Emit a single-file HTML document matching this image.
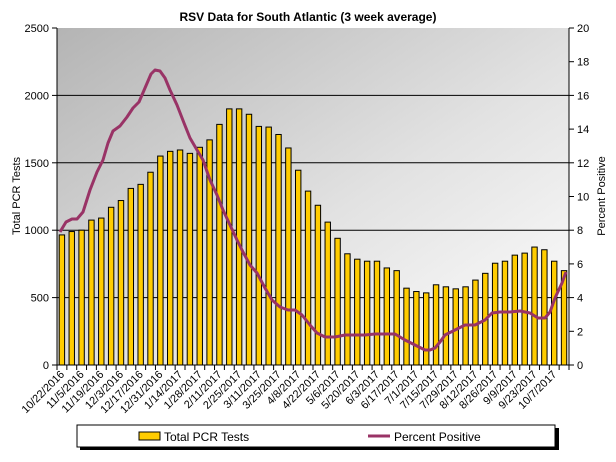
<!DOCTYPE html>
<html><head><meta charset="utf-8"><style>
body{margin:0;background:#fff;}
svg{display:block;font-family:"Liberation Sans",Tahoma,sans-serif;}
</style></head><body>
<svg id="c" width="616" height="462" viewBox="0 0 616 462" xmlns="http://www.w3.org/2000/svg">
<defs>
<linearGradient id="g" x1="0" y1="0" x2="1" y2="1">
<stop offset="0" stop-color="#b4b4b4"/><stop offset="0.55" stop-color="#e2e2e2"/><stop offset="1" stop-color="#ffffff"/>
</linearGradient>
</defs>
<rect x="57" y="28" width="512" height="337" fill="url(#g)"/>
<text x="308" y="21" text-anchor="middle" font-size="12" font-weight="bold" fill="#000">RSV Data for South Atlantic (3 week average)</text>
<text transform="translate(20,196) rotate(-90)" text-anchor="middle" font-size="11" fill="#000">Total PCR Tests</text>
<text transform="translate(605,196) rotate(-90)" text-anchor="middle" font-size="11" fill="#000">Percent Positive</text>
<g id="grid"></g>
<g id="bars"></g>
<polyline id="line" fill="none" stroke="#993366" stroke-width="3" stroke-linejoin="round"/>
<g id="axes"></g>
<rect x="80" y="428" width="479" height="22" fill="#000"/>
<rect x="77" y="425" width="478" height="22" fill="#fff" stroke="#000" stroke-width="1"/>
<rect x="139" y="432" width="21" height="8" fill="#ffcc00" stroke="#000"/>
<text x="164" y="441" font-size="12">Total PCR Tests</text>
<line x1="368" y1="436" x2="390" y2="436" stroke="#993366" stroke-width="3"/>
<text x="394" y="441" font-size="12">Percent Positive</text>
</svg>
<script>
var NS="http://www.w3.org/2000/svg";
function el(p,t,a,txt){var e=document.createElementNS(NS,t);for(var k in a)e.setAttribute(k,a[k]);if(txt)e.textContent=txt;document.getElementById(p).appendChild(e);return e;}
var L=57,R=569,T=28,B=365,H=B-T;
var vals=[965,990,1000,1075,1090,1170,1220,1310,1340,1430,1550,1585,1595,1570,1615,1670,1785,1900,1900,1860,1770,1765,1710,1610,1445,1290,1185,1060,940,825,785,770,770,720,700,570,545,535,595,580,565,580,630,680,755,770,815,830,875,855,770,700];
var n=vals.length,w=(R-L)/n;
[500,1000,1500,2000].forEach(function(v){var y=B-v/2500*H;el("grid","line",{x1:L,x2:R,y1:y,y2:y,stroke:"#000","stroke-width":1});});
vals.forEach(function(v,i){var h=v/2500*H;el("bars","rect",{x:L+i*w+2.2,y:B-h,width:5.4,height:h,fill:"#ffcc00",stroke:"#000","stroke-width":1});});
var pts=[[60,232],[66,222],[72,219],[77,219],[83,212],[90,190],[97,172],[103,160],[108,143],[113,131],[120,126],[127,117],[133,108],[139,102],[145,88],[151,74],[155,70],[160,71],[165,78],[170,90],[177,105],[184,123],[190,138],[197,150],[203,160],[210,180],[217,195],[223,210],[230,225],[237,240],[243,252],[250,265],[257,273],[265,288],[272,300],[280,307],[288,310],[295,310],[302,315],[310,325],[317,333],[325,337],[335,337],[345,335],[355,335],[365,335],[375,334],[385,334],[395,334],[405,340],[415,345],[425,350],[430,350],[435,348],[440,342],[445,335],[455,330],[465,325],[475,325],[485,320],[492,313],[500,312],[510,312],[520,311],[530,313],[538,318],[545,318],[550,312],[555,298],[562,283],[566,272]];
document.getElementById("line").setAttribute("points",pts.map(function(p){return p.join(",")}).join(" "));
el("axes","line",{x1:L,x2:L,y1:T,y2:B,stroke:"#000"});
el("axes","line",{x1:R,x2:R,y1:T,y2:B,stroke:"#000"});
el("axes","line",{x1:L,x2:R,y1:B,y2:B,stroke:"#000"});
for(var v=0;v<=2500;v+=500){var y=B-v/2500*H;el("axes","line",{x1:L-5,x2:L,y1:y,y2:y,stroke:"#000"});el("axes","text",{x:L-8,y:y+4,"text-anchor":"end","font-size":11},""+v);}
for(var p=0;p<=20;p+=2){var y=B-p/20*H;el("axes","line",{x1:R,x2:R+5,y1:y,y2:y,stroke:"#000"});el("axes","text",{x:R+8,y:y+4,"font-size":11},""+p);}
for(var i=0;i<=n;i++){var x=L+i*w;el("axes","line",{x1:x,x2:x,y1:B,y2:B+5,stroke:"#000"});}
var start=new Date(2016,9,22);
for(var i=0;i<n;i+=2){var d=new Date(start.getTime()+i*7*864e5+36e5);var s=(d.getMonth()+1)+"/"+d.getDate()+"/"+d.getFullYear();var x=L+i*w+w/2+3;
el("axes","text",{transform:"translate("+x+","+(B+10)+") rotate(-45)","text-anchor":"end","font-size":11},s);}
</script>
</body></html>
